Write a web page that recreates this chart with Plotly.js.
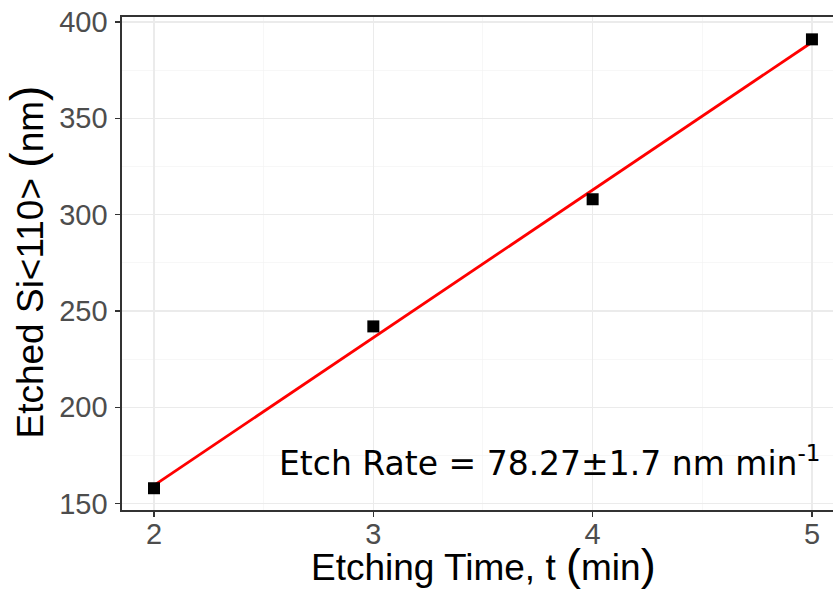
<!DOCTYPE html>
<html>
<head>
<meta charset="utf-8">
<script src="https://cdn.plot.ly/plotly-3.0.1.min.js"></script>
<style>html,body{margin:0;padding:0;background:#fff;}#chart{width:833px;height:592px;}</style>
</head>
<body>
<div id="chart"></div>
<script>
// Measured data
const etchTime = [2, 3, 4, 5];
const etchedDepth = [158, 242, 308, 391];
// Fitted line endpoints
const fitTime = [2, 5];
const fitDepth = [159.5, 389.5];
const xTicks = [2, 3, 4, 5];
const yTicks = [150, 200, 250, 300, 350, 400];
const xTitle = 'Etching Time, t <span style="font-size:45px">(</span>min<span style="font-size:45px">)</span>';
const yTitle = 'Etched Si&lt;110&gt; <span style="font-size:46px">(</span>nm<span style="font-size:46px">)</span>';
const rateLabel = 'Etch Rate = 78.27±1.7 nm min<sup>-1</sup>';

const traces = [
  {x: fitTime, y: fitDepth, mode: 'lines', type: 'scatter',
   line: {color: '#FF0000', width: 2.8}, hoverinfo: 'skip'},
  {x: etchTime, y: etchedDepth, mode: 'markers', type: 'scatter',
   marker: {symbol: 'square', size: 12, color: '#000000'}}
];

const tickFont = {family: 'Liberation Sans, Arial, sans-serif', size: 29, color: '#4D4D4D'};
const titleFont = {family: 'Liberation Sans, Arial, sans-serif', size: 37, color: '#000000'};

const layout = {
  width: 833, height: 592,
  margin: {l: 122, r: 0, t: 17, b: 82},
  paper_bgcolor: '#ffffff', plot_bgcolor: '#ffffff',
  showlegend: false,
  xaxis: {
    range: [1.854, 5.096], tickvals: xTicks, ticktext: xTicks.map(String),
    showgrid: true, gridcolor: '#EBEBEB', gridwidth: 1.1,
    minor: {dtick: 0.5, tick0: 2, showgrid: true, gridcolor: '#F2F2F2', gridwidth: 0.6},
    zeroline: false,
    showline: true, mirror: true, linecolor: '#333333', linewidth: 1.6,
    ticks: 'outside', ticklen: 5, tickcolor: '#333333', tickwidth: 1.1,
    ticklabelstandoff: -7,
    tickfont: tickFont
  },
  yaxis: {
    range: [146.7, 402.6], tickvals: yTicks, ticktext: yTicks.map(String),
    showgrid: true, gridcolor: '#EBEBEB', gridwidth: 1.1,
    minor: {dtick: 25, tick0: 150, showgrid: true, gridcolor: '#F2F2F2', gridwidth: 0.6},
    zeroline: false,
    showline: true, mirror: false, linecolor: '#333333', linewidth: 1.6,
    ticks: 'outside', ticklen: 5, tickcolor: '#333333', tickwidth: 1.1,
    ticklabelstandoff: 2,
    tickfont: tickFont
  },
  annotations: [
    {x: 5.05, y: 172, xref: 'x', yref: 'y', xanchor: 'right', yanchor: 'middle',
     text: rateLabel, showarrow: false,
     font: {family: 'DejaVu Sans, Verdana, sans-serif', size: 33, color: '#000000'}},
    {x: 0.5084, y: -0.1663, xref: 'paper', yref: 'paper', xanchor: 'center', yanchor: 'bottom',
     text: xTitle, showarrow: false, font: titleFont},
    {x: -0.1336, y: 0.502, xref: 'paper', yref: 'paper', xanchor: 'center', yanchor: 'middle',
     textangle: -90, text: yTitle, showarrow: false, font: titleFont}
  ]
};

Plotly.newPlot('chart', traces, layout, {displayModeBar: false, staticPlot: true});
</script>
</body>
</html>
